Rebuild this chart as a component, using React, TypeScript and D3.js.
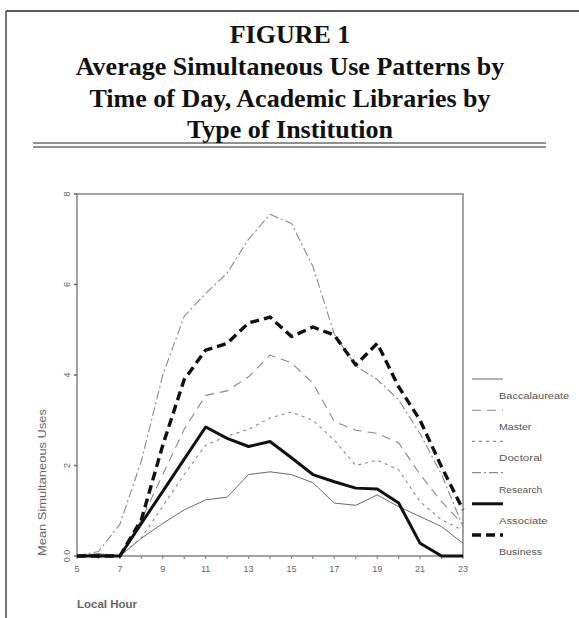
import React, { useEffect, useRef } from "react";
import * as d3 from "d3";

// --- Data ---
const hours = [5, 6, 7, 8, 9, 10, 11, 12, 13, 14, 15, 16, 17, 18, 19, 20, 21, 22, 23];
const xTickLabels = [5, 7, 9, 11, 13, 15, 17, 19, 21, 23];
const yTickValues = [0, 2, 4, 6, 8];
const yTickLabels = ["0.0", "2", "4", "6", "8"];

const baccalaureate = [0, 0.05, 0, 0.39, 0.72, 1.02, 1.24, 1.3, 1.8, 1.86, 1.8, 1.62, 1.17, 1.12, 1.35, 1.09, 0.87, 0.65, 0.28];
const master = [0, 0.05, 0, 0.8, 1.8, 2.8, 3.55, 3.65, 3.96, 4.44, 4.27, 3.82, 2.97, 2.78, 2.71, 2.5, 1.8, 1.2, 0.7];
const doctoral = [0, 0, 0, 0.4, 1.1, 1.8, 2.45, 2.65, 2.8, 3.05, 3.18, 3.0, 2.56, 2.0, 2.12, 1.9, 1.2, 0.8, 0.57];
const research = [0, 0.1, 0.7, 2.1, 4.0, 5.3, 5.8, 6.25, 7.0, 7.55, 7.35, 6.4, 4.9, 4.2, 3.9, 3.45, 2.7, 1.8, 0.65];
const associate = [0, 0, 0, 0.72, 1.43, 2.14, 2.85, 2.6, 2.42, 2.53, 2.17, 1.8, 1.64, 1.5, 1.48, 1.17, 0.28, 0, 0];
const business = [0, 0, 0, 0.8, 2.45, 3.9, 4.55, 4.7, 5.15, 5.28, 4.85, 5.06, 4.88, 4.22, 4.7, 3.74, 3.0, 1.97, 1.02];

const seriesNames = ["Baccalaureate", "Master", "Doctoral", "Research", "Associate", "Business"];
const seriesValues = [baccalaureate, master, doctoral, research, associate, business];

const titleLines = [
  "FIGURE 1",
  "Average Simultaneous Use Patterns by",
  "Time of Day, Academic Libraries by",
  "Type of Institution",
];

// line styles per series
const styles = [
  { stroke: "#6a6a6a", width: 1, dash: "" },
  { stroke: "#8a8a8a", width: 1.1, dash: "9,6" },
  { stroke: "#8a8a8a", width: 1.1, dash: "3,4" },
  { stroke: "#8a8a8a", width: 1.1, dash: "9,3,2,3" },
  { stroke: "#111", width: 3, dash: "" },
  { stroke: "#111", width: 3.4, dash: "9,5" },
];

const App: React.FC = () => {
  const svgRef = useRef<SVGSVGElement>(null);

  useEffect(() => {
    if (!svgRef.current) return;
    const svg = d3.select(svgRef.current);
    svg.selectAll("*").remove();

    const W = 579;
    const H = 618;

    // frame
    svg.append("line").attr("x1", 6).attr("y1", 11).attr("x2", W).attr("y2", 11)
      .attr("stroke", "#222").attr("stroke-width", 1.5);
    svg.append("line").attr("x1", 6).attr("y1", 11).attr("x2", 6).attr("y2", H)
      .attr("stroke", "#444").attr("stroke-width", 1.5);

    // title
    svg.append("g").selectAll("text")
      .data(titleLines)
      .enter()
      .append("text")
      .attr("x", 290)
      .attr("y", (d, i) => 43 + i * 32 - (i === 3 ? 1 : 0))
      .attr("text-anchor", "middle")
      .style("font-family", "'Liberation Serif', 'Times New Roman', serif")
      .style("font-weight", "bold")
      .style("font-size", "26px")
      .style("fill", "#111")
      .text((d) => d);

    // double rule
    [143, 147].forEach((yy) => {
      svg.append("line").attr("x1", 33).attr("x2", 546).attr("y1", yy).attr("y2", yy)
        .attr("stroke", "#222").attr("stroke-width", 1);
    });

    // scales
    const x = d3.scaleLinear().domain([5, 23]).range([77, 463]);
    const y = d3.scaleLinear().domain([0, 8]).range([556, 194]);

    const axisColor = "#9a9a9a";
    const labelColor = "#666";

    // plot box
    svg.append("rect")
      .attr("x", x(5)).attr("y", y(8))
      .attr("width", x(23) - x(5)).attr("height", y(0) - y(8))
      .attr("fill", "none").attr("stroke", axisColor).attr("stroke-width", 1.8);

    // x ticks (every hour) + labels
    const gx = svg.append("g");
    gx.selectAll("line")
      .data(hours)
      .enter()
      .append("line")
      .attr("x1", (d) => x(d)).attr("x2", (d) => x(d))
      .attr("y1", y(0)).attr("y2", y(0) + 3)
      .attr("stroke", "#888").attr("stroke-width", 1.2);
    gx.selectAll("text")
      .data(xTickLabels)
      .enter()
      .append("text")
      .attr("x", (d) => x(d))
      .attr("y", y(0) + 16)
      .attr("text-anchor", "middle")
      .style("font-family", "'Liberation Sans', Arial, sans-serif")
      .style("font-size", "9px")
      .style("fill", labelColor)
      .text((d) => String(d));

    // y ticks + rotated labels
    const gy = svg.append("g");
    gy.selectAll("line")
      .data(yTickValues)
      .enter()
      .append("line")
      .attr("x1", x(5) - 3).attr("x2", x(5))
      .attr("y1", (d) => y(d)).attr("y2", (d) => y(d))
      .attr("stroke", "#666").attr("stroke-width", 1.5);
    gy.selectAll("text")
      .data(yTickValues)
      .enter()
      .append("text")
      .attr("transform", (d) => `translate(${x(5) - 7},${y(d)}) rotate(-90)`)
      .attr("text-anchor", "middle")
      .style("font-family", "'Liberation Sans', Arial, sans-serif")
      .style("font-size", "9px")
      .style("fill", labelColor)
      .text((d, i) => yTickLabels[i]);

    // axis titles
    svg.append("text")
      .attr("transform", `translate(46,${y(0)}) rotate(-90)`)
      .attr("text-anchor", "start")
      .attr("textLength", 147)
      .attr("lengthAdjust", "spacingAndGlyphs")
      .style("font-family", "'Liberation Sans', Arial, sans-serif")
      .style("font-size", "10px")
      .style("fill", labelColor)
      .text("Mean Simultaneous Uses");

    svg.append("text")
      .attr("x", 77)
      .attr("y", 608)
      .attr("textLength", 60)
      .attr("lengthAdjust", "spacingAndGlyphs")
      .style("font-family", "'Liberation Sans', Arial, sans-serif")
      .style("font-size", "10px")
      .style("font-weight", "bold")
      .style("fill", labelColor)
      .text("Local Hour");

    // series lines
    const line = d3.line<number>()
      .x((d, i) => x(hours[i]))
      .y((d) => y(d));

    svg.append("g").selectAll("path")
      .data(seriesValues)
      .enter()
      .append("path")
      .attr("d", (d) => line(d))
      .attr("fill", "none")
      .attr("stroke", (d, i) => styles[i].stroke)
      .attr("stroke-width", (d, i) => styles[i].width)
      .attr("stroke-dasharray", (d, i) => styles[i].dash)
      .attr("stroke-linejoin", "round");

    // legend
    const lg = svg.append("g");
    const legendY = d3.scaleLinear().domain([0, 5]).range([379, 535]);
    seriesNames.forEach((name, i) => {
      const st = styles[i];
      lg.append("line")
        .attr("x1", 472).attr("x2", 503)
        .attr("y1", legendY(i)).attr("y2", legendY(i))
        .attr("stroke", st.stroke)
        .attr("stroke-width", st.width)
        .attr("stroke-dasharray", st.dash);
      lg.append("text")
        .attr("x", 499)
        .attr("y", legendY(i) + 20)
        .attr("textLength", name.length * 5.4)
        .attr("lengthAdjust", "spacingAndGlyphs")
        .style("font-family", "'Liberation Sans', Arial, sans-serif")
        .style("font-size", "8.5px")
        .style("fill", "#555")
        .text(name);
    });
  }, []);

  return (
    <div style={{ position: "absolute", left: 0, top: 0, background: "#fff" }}>
      <svg ref={svgRef} width={579} height={618} style={{ display: "block", background: "#fff" }} />
    </div>
  );
};

export default App;
